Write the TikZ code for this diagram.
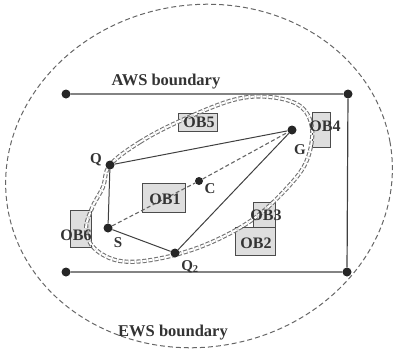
\documentclass[tikz,border=0pt]{standalone}
\usepackage{fontspec}
\setmainfont{Liberation Serif}
\begin{document}
\begin{tikzpicture}[x=1pt,y=-1pt,
  dot/.style={circle,fill=black!85,inner sep=0pt,minimum size=9pt},
  obs/.style={draw=black!70,fill=black!13,line width=0.9pt,inner sep=0pt},
  lbl/.style={font=\fontsize{15}{15}\selectfont\bfseries,text=black!80,inner sep=0pt},
  obl/.style={font=\fontsize{16}{16}\selectfont\bfseries,text=black!80,inner sep=0pt},
  edge/.style={draw=black!75,line width=1pt},
  dline/.style={draw=black!60,line width=1.1pt,dash pattern=on 4pt off 2.5pt},
  ddline/.style={draw=black!55,line width=1.1pt,double=white,double distance=2pt,dash pattern=on 4pt off 2pt},
  bigdash/.style={draw=black!60,line width=1pt,dash pattern=on 5pt off 3pt}]
\useasboundingbox (0,0) rectangle (396,348);

% outer EWS ellipse
\coordinate (ewc) at (199,176);
\draw[bigdash] (ewc) circle[x radius=194pt,y radius=171pt,rotate=10];

% AWS rectangle
\node[dot] (tl) at (66,94) {};
\node[dot] (tr) at (348,94) {};
\node[dot] (br) at (347,272) {};
\node[dot] (bl) at (66,272) {};
\draw[edge,line width=1.2pt] (tl) -- (tr) -- (br) -- (bl) -- cycle;

% obstacles
\node[obs,minimum width=39pt,minimum height=18pt] (ob5) at (198,122) {};
\node[obs,minimum width=18pt,minimum height=35pt] (ob4) at (321,129.5) {};
\node[obs,minimum width=43pt,minimum height=29pt] (ob1) at (163.5,197.5) {};
\node[obs,minimum width=21pt,minimum height=37pt] (ob6) at (80.5,228.5) {};
\node[obs,minimum width=22pt,minimum height=25pt] (ob3) at (264,214.5) {};
\node[obs,minimum width=40pt,minimum height=28pt] (ob2) at (255,241) {};

% inner double dashed boundary
\draw[ddline] plot[smooth cycle,tension=0.6] coordinates {
  (110,165) (140,142) (180,121) (233,100) (270,97) (300,106) (312,128)
  (307,160) (288,187) (252,220) (205,245) (157,259) (120,261) (95,249)
  (86,230) (92,208) (103,187)};

% points
\node[dot] (Q) at (110,165) {};
\node[dot] (S) at (108,228) {};
\node[dot] (Q2) at (175,253) {};
\node[dot] (G) at (292,130) {};
\node[dot,minimum size=8pt] (C) at (199,181) {};

\draw[edge] (Q) -- (G) -- (Q2) -- (S) -- (Q);
\draw[dline] (S) -- (C) -- (G);

% labels
\node[lbl] (lQ) at (96,160) {Q};
\node[lbl] (lS) at (118,243) {S};
\node[lbl] (lQ2) at (190,267) {Q\textsubscript{2}};
\node[lbl] (lG) at (300,150) {G};
\node[lbl] (lC) at (210,189) {C};

\node[obl] (t5) at (199,122) {OB5};
\node[obl] (t4) at (325,126) {OB4};
\node[obl] (t1) at (165,199) {OB1};
\node[obl] (t6) at (76,235) {OB6};
\node[obl] (t3) at (266,215) {OB3};
\node[obl] (t2) at (256,243) {OB2};

\node[lbl,font=\fontsize{16.5}{16.5}\selectfont\bfseries] (aws) at (166,82) {AWS boundary};
\node[lbl,font=\fontsize{16.5}{16.5}\selectfont\bfseries] (ews) at (173,333) {EWS boundary};
\end{tikzpicture}
\end{document}
